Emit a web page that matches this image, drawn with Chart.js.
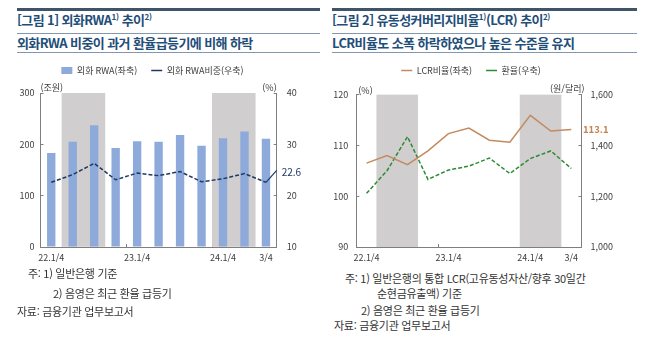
<!DOCTYPE html>
<html lang="ko">
<head>
<meta charset="utf-8">
<script src="https://cdn.jsdelivr.net/npm/chart.js@4.4.1/dist/chart.umd.min.js"></script>
<style>
  html, body { margin: 0; padding: 0; background: #fff; }
  body { width: 648px; height: 342px; position: relative; overflow: hidden;
         font-family: "Noto Sans CJK KR", sans-serif; }
  .txt { position: absolute; white-space: nowrap; line-height: 16px; }
  .title { font-size: 13px; font-weight: 700; color: #1f4e79; letter-spacing: -0.6px; }
  .title sup { font-size: 8px; vertical-align: 5px; line-height: 0; letter-spacing: -0.3px; }
  .note { font-size: 11px; color: #333; letter-spacing: -0.3px; }
  .rule { position: absolute; }
  .thick { height: 3px; background: #3f5468; }
  .thin { height: 1px; background: #8497b0; }
  canvas { position: absolute; }
</style>
</head>
<body>
<div class="rule thick" style="left:17px;top:8px;width:303px"></div>
<div class="rule thin" style="left:17px;top:33px;width:303px"></div>
<div class="rule thin" style="left:17px;top:52px;width:303px"></div>
<div class="rule thick" style="left:332px;top:8px;width:305px"></div>
<div class="rule thin" style="left:332px;top:33px;width:305px"></div>
<div class="rule thin" style="left:332px;top:52px;width:305px"></div>

<div class="txt title" style="left:17px;top:12px">[그림 1] 외화RWA<sup>1)</sup> 추이<sup>2)</sup></div>
<div class="txt title" style="left:17px;top:35px">외화RWA 비중이 과거 환율급등기에 비해 하락</div>
<div class="txt title" style="left:332px;top:12px">[그림 2] 유동성커버리지비율<sup>1)</sup>(LCR) 추이<sup>2)</sup></div>
<div class="txt title" style="left:332px;top:35px">LCR비율도 소폭 하락하였으나 높은 수준을 유지</div>

<canvas id="c1" width="305" height="215" style="left:0;top:52px"></canvas>
<canvas id="c2" width="294" height="215" style="left:324px;top:52px"></canvas>

<div class="txt note" style="left:28px;top:265px">주: 1) 일반은행 기준</div>
<div class="txt note" style="left:53px;top:285px">2) 음영은 최근 환율 급등기</div>
<div class="txt note" style="left:17px;top:303px">자료: 금융기관 업무보고서</div>

<div class="txt note" style="left:345px;top:270px">주: 1) 일반은행의 통합 LCR(고유동성자산/향후 30일간</div>
<div class="txt note" style="left:377px;top:285px">순현금유출액) 기준</div>
<div class="txt note" style="left:361px;top:302px">2) 음영은 최근 환율 급등기</div>
<div class="txt note" style="left:334px;top:317px">자료: 금융기관 업무보고서</div>

<script>
// quarters 22.1/4 ~ 24.3/4
var quarters = ['22.1/4', '2/4', '3/4', '4/4', '23.1/4', '2/4', '3/4', '4/4', '24.1/4', '2/4', '3/4'];
var labeledTicks = [0, 4, 8, 10];
var surgeQuarters = [1, 2, 8, 9];   // 음영: 환율 급등기

// [그림 1]
var rwaFx = [183, 205, 237, 193, 206, 205, 218, 197, 212, 225, 211];       // 조원
var rwaShare = [22.6, 24.1, 26.3, 23.1, 24.4, 23.9, 24.7, 22.7, 23.3, 24.3, 22.6]; // %

// [그림 2]
var lcr = [106.5, 108.0, 106.2, 108.9, 112.3, 113.4, 111.0, 110.6, 115.9, 112.8, 113.1]; // %
var fxRate = [1211, 1300, 1434, 1266, 1303, 1318, 1350, 1289, 1348, 1378, 1309];        // 원/달러

var axisColor = '#7f7f7f';
Chart.defaults.font.family = '"Noto Sans CJK KR", sans-serif';
Chart.defaults.font.size = 9;
Chart.defaults.color = '#404040';

function shade(max) {
    return quarters.map(function (q, i) { return surgeQuarters.indexOf(i) >= 0 ? max : null; });
}

// legend box gets extra room under it
var legendGap = {
    id: 'legendGap',
    beforeLayout: function (chart, args, opts) {
        var lg = chart.legend;
        if (lg && !lg._gap) {
            var fit = lg.fit;
            lg.fit = function () { fit.call(this); this.height += opts.extra; };
            lg._gap = true;
        }
    }
};

// unit labels + last value label
var annot = {
    id: 'annot',
    afterDraw: function (chart, args, o) {
        var ctx = chart.ctx, a = chart.chartArea;
        ctx.save();
        ctx.font = '9px "Noto Sans CJK KR"';
        ctx.fillStyle = '#404040';
        ctx.textBaseline = 'middle';
        ctx.textAlign = 'left';
        ctx.fillText(o.leftUnit, a.left + o.leftDx, a.top + o.leftDy);
        ctx.textAlign = 'right';
        ctx.fillText(o.rightUnit, a.right + o.rightDx, a.top + o.rightDy);

        var meta = chart.getDatasetMeta(o.ds);
        var vals = chart.data.datasets[o.ds].data;
        var p = meta.data[meta.data.length - 1];
        var txt = vals[vals.length - 1].toFixed(1);
        ctx.fillStyle = o.color;
        ctx.strokeStyle = o.color;
        ctx.font = o.font;
        ctx.textAlign = 'left';
        if (o.leader) {
            ctx.lineWidth = 1.2;
            ctx.beginPath();
            ctx.moveTo(p.x, p.y);
            ctx.lineTo(a.right, p.y - 12);
            ctx.stroke();
            ctx.fillText(txt, a.right + 5, p.y - 10);
        } else {
            ctx.fillText(txt, a.right + 1.5, p.y);
        }
        ctx.restore();
    }
};

function xAxis() {
    return {
        offset: true,
        grid: {
            offset: true, drawOnChartArea: false, tickLength: -3,
            tickColor: function (c) { return (c.index === 4 || c.index === 8) ? axisColor : 'rgba(0,0,0,0)'; }
        },
        border: { color: axisColor },
        ticks: {
            autoSkip: false, maxRotation: 0, padding: 8,
            callback: function (v, i) { return labeledTicks.indexOf(i) >= 0 ? quarters[i] : ''; }
        },
        afterFit: function (s) { s.height = 20; }
    };
}

function yAxis(pos, min, max, step, pad, width, fmt) {
    return {
        position: pos, min: min, max: max,
        grid: { drawOnChartArea: false, tickLength: -3, tickColor: axisColor },
        border: { color: axisColor },
        ticks: { stepSize: step, padding: pad, callback: fmt || function (v) { return v; } },
        afterFit: function (s) { s.width = width; }
    };
}

var legendOpts = {
    position: 'top',
    labels: {
        usePointStyle: true, pointStyleWidth: 11, boxHeight: 7, padding: 14,
        filter: function (it) { return it.datasetIndex > 0; },
        sort: function (a, b) { return a.datasetIndex - b.datasetIndex; }
    }
};

new Chart(document.getElementById('c1'), {
    type: 'bar',
    data: {
        labels: quarters,
        datasets: [
            {
                label: 'shade', data: shade(300), backgroundColor: '#d0cece',
                barPercentage: 1, categoryPercentage: 1, grouped: false, order: 3, yAxisID: 'y'
            },
            {
                label: '외화 RWA(좌축)', data: rwaFx, backgroundColor: '#8eaadb', pointStyle: 'rect',
                barPercentage: 0.39, categoryPercentage: 1, grouped: false, order: 2, yAxisID: 'y'
            },
            {
                type: 'line', label: '외화 RWA비중(우축)', data: rwaShare, yAxisID: 'y1',
                borderColor: '#1f3864', backgroundColor: '#1f3864', borderWidth: 1.5, borderDash: [4, 2],
                pointRadius: 0, pointHoverRadius: 0, pointStyle: 'line', tension: 0, order: 1
            }
        ]
    },
    options: {
        responsive: false,
        animation: false,
        layout: { padding: 0 },
        plugins: {
            legend: legendOpts,
            tooltip: { enabled: false },
            legendGap: { extra: 8 },
            annot: {
                leftUnit: '(조원)', leftDx: 0, leftDy: -5,
                rightUnit: '(%)', rightDx: 0, rightDy: -5,
                ds: 2, leader: true, color: '#1f3864', font: '10px "Noto Sans CJK KR"'
            }
        },
        scales: {
            x: xAxis(),
            y: yAxis('left', 0, 300, 100, 9, 40.5),
            y1: yAxis('right', 10, 40, 10, 13, 28.3)
        }
    },
    plugins: [legendGap, annot]
});

new Chart(document.getElementById('c2'), {
    type: 'line',
    data: {
        labels: quarters,
        datasets: [
            {
                type: 'bar', label: 'shade', data: shade(120), backgroundColor: '#d0cece',
                barPercentage: 1, categoryPercentage: 1, grouped: false, order: 3, yAxisID: 'y'
            },
            {
                label: 'LCR비율(좌축)', data: lcr, yAxisID: 'y',
                borderColor: '#c48a5f', backgroundColor: '#c48a5f', borderWidth: 1.5,
                pointRadius: 0, pointHoverRadius: 0, pointStyle: 'line', tension: 0, order: 1
            },
            {
                label: '환율(우축)', data: fxRate, yAxisID: 'y1',
                borderColor: '#2e8b34', backgroundColor: '#2e8b34', borderWidth: 1.5, borderDash: [4, 2],
                pointRadius: 0, pointHoverRadius: 0, pointStyle: 'line', tension: 0, order: 2
            }
        ]
    },
    options: {
        responsive: false,
        animation: false,
        layout: { padding: 0 },
        plugins: {
            legend: legendOpts,
            tooltip: { enabled: false },
            legendGap: { extra: 9.5 },
            annot: {
                leftUnit: '(%)', leftDx: 2, leftDy: -4,
                rightUnit: '(원/달러)', rightDx: 3, rightDy: -6,
                ds: 1, leader: false, color: '#c8834e', font: '600 9.5px "Noto Sans CJK KR"'
            }
        },
        scales: {
            x: xAxis(),
            y: yAxis('left', 90, 120, 10, 11, 32.3),
            y1: yAxis('right', 1000, 1600, 200, 12, 36.5, function (v) { return v.toLocaleString('en-US'); })
        }
    },
    plugins: [legendGap, annot]
});
</script>
</body>
</html>
